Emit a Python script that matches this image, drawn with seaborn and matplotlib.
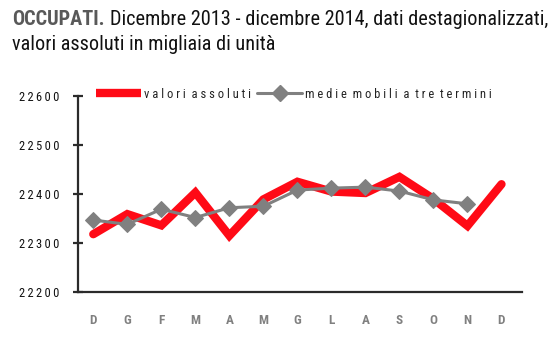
import matplotlib
matplotlib.use("Agg")
import matplotlib.pyplot as plt
from matplotlib import font_manager
from matplotlib.lines import Line2D
import seaborn as sns
import pandas as pd

# Monthly labels, Dec 2013 .. Dec 2014
months = ["D", "G", "F", "M", "A", "M", "G", "L", "A", "S", "O", "N", "D"]
# Employed persons, seasonally adjusted, thousands
valori_assoluti = [22318, 22359, 22336, 22403, 22315, 22389, 22425, 22405, 22402,
                   22435, 22390, 22335, 22420]
# Three-term moving average (no value for the last month)
medie_mobili = [22347, 22338, 22369, 22352, 22372, 22375, 22408, 22412, 22414,
                22406, 22388, 22380]
y_ticks = [22200, 22300, 22400, 22500, 22600]

# Pick a narrow sans face that also has a bold weight
faces = {}
for f in font_manager.fontManager.ttflist:
    faces.setdefault(f.name, set()).add(f.weight)
preferred = ["Liberation Sans Narrow", "Arial Narrow", "Roboto Condensed",
             "Open Sans Condensed", "Asap Condensed", "Barlow Semi Condensed",
             "Archivo Narrow", "Liberation Sans"]
base_font = next((n for n in preferred
                  if n in faces and any(w in (700, "bold") for w in faces[n])),
                 "Liberation Sans")

sns.set_theme(style="white")
plt.rcParams["font.family"] = [base_font, "DejaVu Sans"]

RED = "#ff0a16"
GREY = "#808080"
DARK = "#2b2b2b"

fig = plt.figure(figsize=(5.57, 3.38), dpi=100)
ax = fig.add_axes([0.140, 0.136, 0.797, 0.580])

df_val = pd.DataFrame({"x": range(len(valori_assoluti)), "y": valori_assoluti})
df_mm = pd.DataFrame({"x": range(len(medie_mobili)), "y": medie_mobili})

sns.lineplot(data=df_val, x="x", y="y", ax=ax, color=RED, linewidth=6.0,
             solid_joinstyle="miter", legend=False)
sns.lineplot(data=df_mm, x="x", y="y", ax=ax, color=GREY, linewidth=2.2,
             marker="D", markersize=8, markeredgecolor=GREY, legend=False)

ax.set_xlim(-0.45, 12.6)
ax.set_ylim(22200, 22600)
ax.set_xlabel("")
ax.set_ylabel("")

ax.set_xticks(range(len(months)))
ax.set_xticklabels(months, color=GREY, fontweight="bold", fontsize=9.5)
ax.set_yticks(y_ticks)
ax.set_yticklabels(["\u2009".join(str(v)) for v in y_ticks], color="#111111",
                   fontsize=9)

ax.tick_params(axis="x", length=0, pad=16)
ax.tick_params(axis="y", direction="inout", length=7, width=1.6, color=DARK,
               pad=10, left=True)

for side in ("top", "right"):
    ax.spines[side].set_visible(False)
for side in ("left", "bottom"):
    ax.spines[side].set_color(DARK)
    ax.spines[side].set_linewidth(1.6)

handles = [
    Line2D([], [], color=RED, linewidth=6.0, solid_capstyle="butt"),
    Line2D([], [], color=GREY, linewidth=2.2, marker="D", markersize=8),
]
labels = ["v a l o r i  a s s o l u t i", "m e d i e  m o b i l i  a  t r e  t e r m i n i"]
ax.legend(handles, labels, loc="lower left", bbox_to_anchor=(0.03, 0.95),
          ncol=2, frameon=False, fontsize=9, handlelength=3.6,
          handletextpad=0.2, columnspacing=0.5, borderaxespad=0,
          labelcolor="#222222")

# Title: size chosen so the first line spans the full text block
line1_lead = "OCCUPATI."
line1_rest = "Dicembre 2013 - dicembre 2014, dati destagionalizzati,"
renderer = fig.canvas.get_renderer()
probe = fig.text(0, 0, line1_lead + " " + line1_rest, fontsize=10)
probe_w = probe.get_window_extent(renderer).width
probe.remove()
title_size = 10 * 530 / probe_w

fig.text(12 / 557, 1 - 25 / 338, line1_lead, fontsize=title_size, fontweight="bold",
         color="#595959", ha="left", va="baseline")
fig.text(548 / 557, 1 - 25 / 338, line1_rest,
         fontsize=title_size, color="#111111", ha="right", va="baseline")
fig.text(12 / 557, 1 - 50 / 338, "valori assoluti in migliaia di unità",
         fontsize=title_size, color="#111111", ha="left", va="baseline")

fig.savefig("out.png", dpi=100)
